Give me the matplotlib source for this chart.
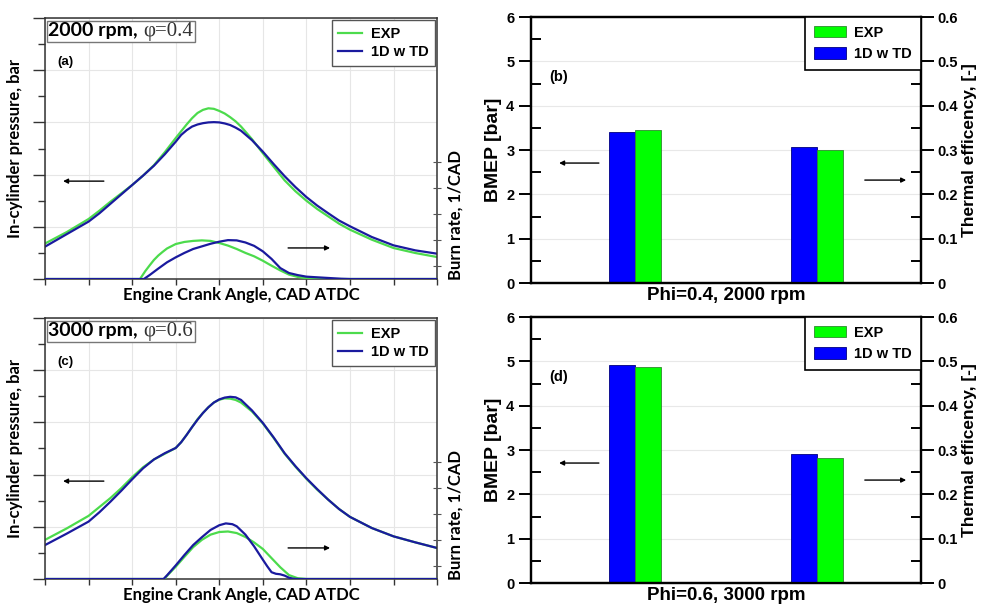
import numpy as np
import matplotlib
matplotlib.use('Agg')
import matplotlib.pyplot as plt
from matplotlib.ticker import MultipleLocator, FuncFormatter
from matplotlib.offsetbox import AnchoredOffsetbox, HPacker, TextArea

plt.rcParams['font.family'] = ['Liberation Sans', 'DejaVu Sans']
plt.rcParams['font.weight'] = 'bold'
plt.rcParams['axes.labelweight'] = 'bold'

GREEN = '#4cdb4c'
NAVY = '#1a1a9e'
BAR_GREEN = '#00ff00'
BAR_BLUE = '#0000ff'

# ---- pressure traces (bar) vs crank angle (CAD ATDC) ----
angle = [-40, -35, -30, -27.5, -25, -22.5, -20, -17.5, -15, -12.5, -10,
         -8.75, -7.5, -6.25, -5, -3.75, -2.5, -1.25, 0, 1.25, 2.5, 3.75, 5,
         7.5, 10, 12.5, 15, 17.5, 20, 22.5, 25, 27.5, 30, 35, 40, 45, 50]

p_exp_a = [6.8, 9.0, 11.5, 13.1, 14.8, 16.4, 18.0, 19.8, 21.8, 24.3, 27.0,
           28.3, 29.6, 30.8, 31.8, 32.4, 32.7, 32.6, 32.2, 31.7, 31.0, 30.2, 29.2,
           26.8, 24.1, 21.5, 18.9, 16.8, 15.0, 13.4, 12.0, 10.6, 9.45, 7.54, 5.94, 4.98, 4.21]
p_sim_a = [6.2, 8.6, 11.0, 12.6, 14.4, 16.2, 18.0, 19.8, 21.7, 23.9, 26.3,
           27.6, 28.5, 29.2, 29.6, 29.85, 30.0, 30.05, 30.0, 29.8, 29.5, 29.0, 28.4,
           26.6, 24.4, 22.0, 19.7, 17.6, 15.7, 14.05, 12.6, 11.2, 10.1, 8.05, 6.45, 5.49, 4.85]

p_exp_c = [7.5, 9.7, 12.1, 13.8, 15.5, 17.4, 19.5, 21.4, 22.9, 24.0, 25.1,
           26.2, 27.6, 29.1, 30.6, 31.8, 32.9, 33.8, 34.35, 34.6, 34.55, 34.3, 33.8,
           32.1, 29.8, 27.0, 24.0, 21.5, 19.2, 17.1, 15.2, 13.4, 11.9, 9.77, 8.17, 7.02, 5.94]
p_sim_c = [6.5, 8.7, 11.0, 12.8, 14.8, 16.9, 19.1, 21.2, 22.9, 24.1, 25.1,
           26.2, 27.6, 29.1, 30.5, 31.8, 32.9, 33.8, 34.4, 34.75, 34.9, 34.8, 34.3,
           32.3, 29.9, 27.1, 24.1, 21.6, 19.3, 17.2, 15.2, 13.4, 11.9, 9.77, 8.17, 7.02, 5.94]

# ---- burn rate (1/CAD) ----
br_ang_exp_a = [-40, -18.2, -17, -16, -15, -14, -13, -12, -10, -8, -6, -4, -2, 0, 2, 4, 6,
                8, 10, 12, 14, 16, 18, 20, 22, 50]
br_exp_a = [0, 0, 0.0030, 0.0052, 0.0073, 0.0090, 0.0104, 0.0117, 0.0134, 0.0142, 0.0146,
            0.0148, 0.0146, 0.0138, 0.0128, 0.0115, 0.0100, 0.0087, 0.0070, 0.0051, 0.0033,
            0.0017, 0.0008, 0.0003, 0, 0]
br_ang_sim_a = [-40, -17.3, -16, -14, -12, -10, -8, -6, -4, -2, 0, 2, 4, 6, 8, 10, 12, 14,
                16, 18, 20, 24, 28, 30, 50]
br_sim_a = [0, 0, 0.0015, 0.0040, 0.0064, 0.0083, 0.0100, 0.0115, 0.0125, 0.0135, 0.0143,
            0.0149, 0.0148, 0.0140, 0.0127, 0.0106, 0.0077, 0.0042, 0.0023, 0.0015, 0.0009,
            0.0005, 0.0001, 0, 0]

br_ang_exp_c = [-40, -12.6, -12, -10, -8, -6, -4, -2, 0, 2, 4, 6, 8, 10, 12, 14, 16, 18, 20, 50]
br_exp_c = [0, 0, 0.0012, 0.0047, 0.0085, 0.0122, 0.0150, 0.0170, 0.0180, 0.0182, 0.0176,
            0.0161, 0.0140, 0.0115, 0.0080, 0.0045, 0.0015, 0.0003, 0, 0]
br_ang_sim_c = [-40, -12.8, -12, -10, -8, -6, -4, -2, 0, 1.5, 3, 4, 6, 8, 10, 11, 12, 13, 14,
                15, 16, 17, 18, 50]
br_sim_c = [0, 0, 0.0014, 0.0052, 0.0092, 0.0130, 0.0160, 0.0188, 0.0206, 0.0213, 0.0210,
            0.0202, 0.0170, 0.0125, 0.0074, 0.0049, 0.0026, 0.0020, 0.0018, 0.0013, 0.0005,
            0.0001, 0, 0]

# ---- BMEP [bar] and thermal efficiency [-] ----
bmep_sim = [3.41, 4.91]
bmep_exp = [3.46, 4.87]
eff_sim = [0.307, 0.290]
eff_exp = [0.299, 0.281]
cases = ['Phi=0.4, 2000 rpm', 'Phi=0.6, 3000 rpm']
rpm_text = ['2000 rpm,', '3000 rpm,']
phi_text = ['φ=0.4', 'φ=0.6']


def arrow(ax, x0, x1, y):
    ax.annotate('', xy=(x1, y), xytext=(x0, y), xycoords='axes fraction',
                arrowprops=dict(arrowstyle='-|>', color='black', lw=1, mutation_scale=7,
                                shrinkA=0, shrinkB=0))


def pressure_panel(ax, p_exp, p_sim, bae, be, bas, bs, i, letter):
    ax.plot(angle, p_exp, color=GREEN, lw=1.6, label='EXP')
    ax.plot(angle, p_sim, color=NAVY, lw=1.6, label='1D w TD')
    ax.set_xlim(-40, 50)
    ax.set_ylim(0, 50)
    ax.xaxis.set_major_locator(MultipleLocator(10))
    ax.yaxis.set_major_locator(MultipleLocator(10))
    ax.yaxis.set_minor_locator(MultipleLocator(5))
    ax.tick_params(axis='y', which='major', direction='out', length=9, width=1, color='#333')
    ax.tick_params(axis='y', which='minor', direction='out', length=5, width=1, color='#333')
    ax.tick_params(axis='x', direction='out', length=4, width=1, color='#333')
    ax.tick_params(labelleft=False, labelbottom=False)
    ax.grid(True, which='major', color='#e6e6e6', lw=0.8)
    for s in ax.spines.values():
        s.set_color('#333')
        s.set_linewidth(1.1)
    ax.set_ylabel('In-cylinder pressure, bar', family='Lato', fontsize=12, weight='bold',
                  labelpad=7)
    ax.set_xlabel('Engine Crank Angle, CAD ATDC', family='Lato', fontsize=12, weight='bold',
                  labelpad=2)

    ax2 = ax.twinx()
    ax2.plot(bae, be, color=GREEN, lw=1.6)
    ax2.plot(bas, bs, color=NAVY, lw=1.6)
    ax2.set_ylim(0, 0.1)
    ax2.set_yticks([0.005, 0.015, 0.025, 0.035, 0.045])
    ax2.tick_params(direction='inout', length=6, width=0.8, color='#555', labelright=False)
    for s in ax2.spines.values():
        s.set_visible(False)
    ax2.text(1.046, 0.245, 'Burn rate, 1/CAD', transform=ax.transAxes, rotation=90,
             ha='center', va='center', family='Lato', fontsize=12, weight='bold')

    leg = ax2.legend(ax.get_lines(), ['EXP', '1D w TD'], loc='upper right',
                     fontsize=10.5, fancybox=False, framealpha=1, edgecolor='#555',
                     borderaxespad=0.15, handlelength=1.6, handletextpad=0.6,
                     labelspacing=0.3, borderpad=0.45)
    leg.get_frame().set_linewidth(1)

    box = HPacker(children=[
        TextArea(rpm_text[i], textprops=dict(family='Lato', weight='bold', fontsize=14)),
        TextArea(phi_text[i], textprops=dict(family='Liberation Serif', weight='normal',
                                             fontsize=15, color='#333'))],
        align='baseline', pad=0, sep=4)
    ab = AnchoredOffsetbox(loc='upper left', child=box, pad=0.1, borderpad=0, frameon=True,
                           bbox_to_anchor=(0.005, 0.99), bbox_transform=ax.transAxes)
    ab.patch.set_edgecolor('#777')
    ab.patch.set_linewidth(1)
    ax2.add_artist(ab)
    ax.text(0.031, 0.83, letter, transform=ax.transAxes, ha='left', va='center',
            fontsize=9.5, weight='bold')
    arrow(ax, 0.150, 0.046, 0.375)
    arrow(ax, 0.620, 0.727, 0.119)


def bar_panel(ax, i, letter):
    w = 0.143
    ax2 = ax.twinx()
    ax.bar(0 - w / 2, bmep_sim[i], w, color=BAR_BLUE, edgecolor='#000080', lw=0.6)
    ax.bar(0 + w / 2, bmep_exp[i], w, color=BAR_GREEN, edgecolor='#2e8b2e', lw=0.6)
    hs = ax2.bar(1 - w / 2, eff_sim[i], w, color=BAR_BLUE, edgecolor='#000080', lw=0.6)
    he = ax2.bar(1 + w / 2, eff_exp[i], w, color=BAR_GREEN, edgecolor='#2e8b2e', lw=0.6)
    ax.set_xlim(-0.573, 1.573)
    ax.set_ylim(0, 6)
    ax2.set_ylim(0, 0.6)
    ax.set_xticks([])
    ax.yaxis.set_major_locator(MultipleLocator(1))
    ax.yaxis.set_minor_locator(MultipleLocator(0.5))
    ax2.yaxis.set_major_locator(MultipleLocator(0.1))
    ax2.yaxis.set_minor_locator(MultipleLocator(0.05))
    ax2.yaxis.set_major_formatter(FuncFormatter(lambda v, p: '0' if abs(v) < 1e-9 else f'{v:.1f}'))
    for a in (ax, ax2):
        a.tick_params(axis='y', which='major', direction='out', length=9, width=1.4,
                      labelsize=10.5, pad=3)
        a.tick_params(axis='y', which='minor', direction='in', length=7, width=1.4)
        for s in a.spines.values():
            s.set_linewidth(1.6)
    ax.grid(True, axis='y', which='major', color='#e8e8e8', lw=0.8)
    ax.set_axisbelow(True)
    ax.set_ylabel('BMEP [bar]', fontsize=14, labelpad=3)
    ax2.set_ylabel('Thermal efficency, [-]', fontsize=12.5, labelpad=3)
    ax.set_xlabel(cases[i], fontsize=13.5, labelpad=3)
    leg = ax2.legend([he, hs], ['EXP', '1D w TD'], loc='upper right', fontsize=10.5,
                     fancybox=False, framealpha=1, edgecolor='black', borderaxespad=0,
                     handlelength=2.2, handleheight=0.8, handletextpad=0.6,
                     labelspacing=0.5, borderpad=0.6)
    leg.get_frame().set_linewidth(1.2)
    ax.text(0.046, 0.774, letter, transform=ax.transAxes, ha='left', va='center',
            fontsize=10.5)
    arrow(ax, 0.174, 0.072, 0.451)
    arrow(ax, 0.856, 0.962, 0.387)


fig = plt.figure(figsize=(9.92, 6.08), dpi=100)
ax_a = fig.add_axes([0.0454, 0.5411, 0.3952, 0.4293])
ax_c = fig.add_axes([0.0454, 0.0477, 0.3952, 0.4293])
ax_b = fig.add_axes([0.5353, 0.5345, 0.3931, 0.4375])
ax_d = fig.add_axes([0.5353, 0.0411, 0.3931, 0.4375])

pressure_panel(ax_a, p_exp_a, p_sim_a, br_ang_exp_a, br_exp_a, br_ang_sim_a, br_sim_a, 0, '(a)')
pressure_panel(ax_c, p_exp_c, p_sim_c, br_ang_exp_c, br_exp_c, br_ang_sim_c, br_sim_c, 1, '(c)')
bar_panel(ax_b, 0, '(b)')
bar_panel(ax_d, 1, '(d)')

fig.savefig('out.png', dpi=100)
